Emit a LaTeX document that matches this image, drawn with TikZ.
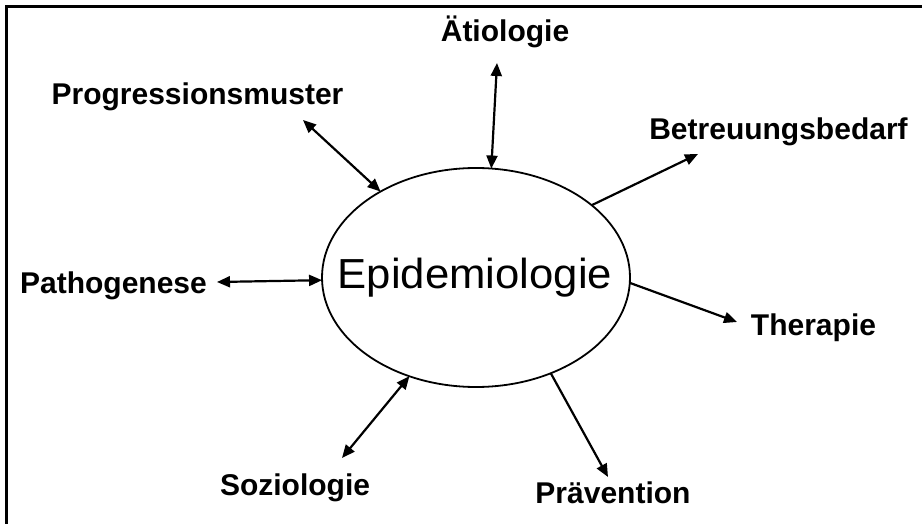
\documentclass[tikz,border=0pt]{standalone}
\usepackage{fontspec}
\setmainfont{Liberation Sans}
\usetikzlibrary{arrows.meta,shapes.geometric}
\tikzset{
  lbl/.style={anchor=base, inner sep=0pt, font=\fontsize{30pt}{30pt}\selectfont\bfseries},
  tip/.tip={Triangle[length=13pt,width=11pt]},
  conn/.style={line width=2.2pt, -tip},
  bconn/.style={line width=2.2pt, tip-tip},
}
\begin{document}
\begin{tikzpicture}[x=1pt,y=-1pt]
\useasboundingbox (0,0) rectangle (922,524);
\fill[white] (0,0) rectangle (922,524);
\draw[line width=2.8pt] (922,6.5) -- (6.5,6.5) -- (6.5,524);
\node[ellipse, draw, line width=1.8pt, minimum width=308pt, minimum height=219pt, inner sep=0pt, outer sep=0pt] (ell) at (476,277.5) {};
\node[anchor=base, inner sep=0pt] (epi) at (475,288) {\scalebox{1.04}[1]{\fontsize{42pt}{42pt}\selectfont Epidemiologie}};
\node[lbl] (prog) at (197.5,105) {Progressionsmuster};
\node[lbl] (aet) at (505,42) {Ätiologie};
\node[lbl] (betr) at (778.5,140) {Betreuungsbedarf};
\node[lbl] (path) at (113.5,293) {Pathogenese};
\node[lbl] (ther) at (813.5,335) {Therapie};
\node[lbl] (soz) at (295,495) {Soziologie};
\node[lbl] (prae) at (613,503) {Prävention};
\coordinate (cprog) at (303,120);
\coordinate (caet) at (497,63);
\coordinate (cbetr) at (698,154);
\coordinate (cpath) at (217,282);
\coordinate (cther) at (737,322);
\coordinate (csoz) at (342,458);
\coordinate (cprae) at (608,477);
\draw[bconn] (cprog) -- (ell.138.3);
\draw[bconn] (caet) -- (ell.82.7);
\draw[conn] (ell.32) -- (cbetr);
\draw[bconn] (cpath) -- (ell.181.7);
\draw[conn] (ell.-2.8) -- (cther);
\draw[bconn] (csoz) -- (ell.-124.7);
\draw[conn] (ell.-52.8) -- (cprae);
\end{tikzpicture}
\end{document}
